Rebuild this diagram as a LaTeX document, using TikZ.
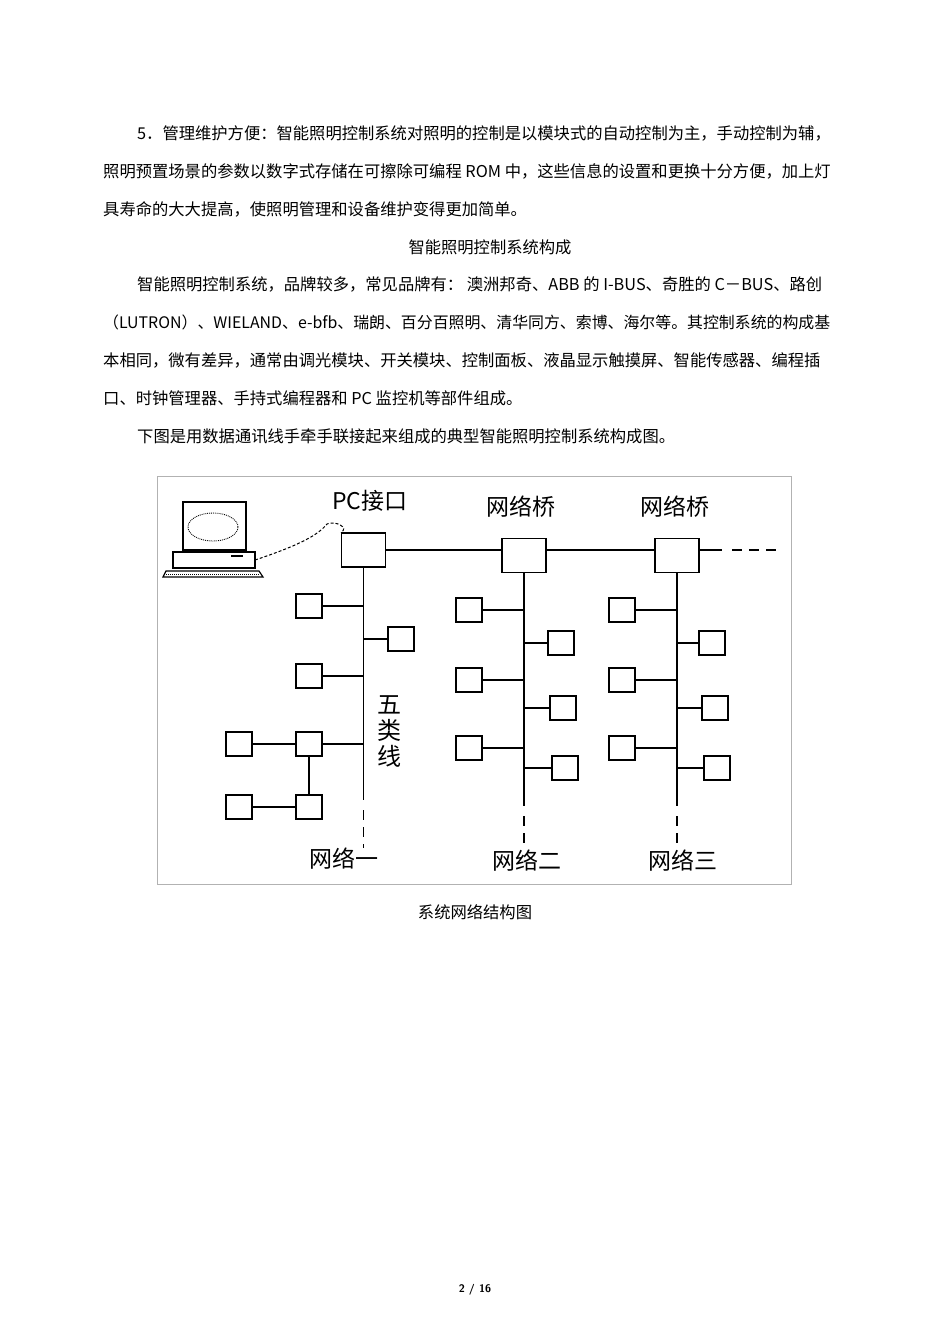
\documentclass[tikz,border=0pt]{standalone}
\usepackage{fontspec}
\newfontfamily\cjk{Noto Sans CJK SC}
\begin{document}
\begin{tikzpicture}[x=1pt,y=-1pt,
  txt/.style={anchor=west,inner sep=0pt,font=\cjk\fontsize{16.3}{18}\selectfont},
  lab/.style={inner sep=0pt,font=\cjk\fontsize{23}{25}\selectfont},
  bx/.style={draw,line width=1.3pt,minimum width=26pt,minimum height=24pt,inner sep=0pt},
  bb/.style={draw,line width=1.3pt,minimum width=44pt,minimum height=34pt,inner sep=0pt},
  ln/.style={line width=1.3pt},
  dl/.style={line width=1.3pt,dash pattern=on 10pt off 7pt}]
\useasboundingbox (0,0) rectangle (950,1344);
% text
\node[txt] (t1) at (137,133) {5．管理维护方便：智能照明控制系统对照明的控制是以模块式的自动控制为主，手动控制为辅，};
\node[txt] (t2) at (103,171) {照明预置场景的参数以数字式存储在可擦除可编程 ROM 中，这些信息的设置和更换十分方便，加上灯};
\node[txt] (t3) at (103,209) {具寿命的大大提高，使照明管理和设备维护变得更加简单。};
\node[txt,anchor=center] (tt) at (490,247) {智能照明控制系统构成};
\node[txt] (t4) at (137,284) {智能照明控制系统，品牌较多，常见品牌有： 澳洲邦奇、ABB 的 I-BUS、奇胜的 C－BUS、路创};
\node[txt,font=\cjk\fontsize{15.9}{18}\selectfont] (t5) at (103,322) {（LUTRON）、WIELAND、e-bfb、瑞朗、百分百照明、清华同方、索博、海尔等。其控制系统的构成基};
\node[txt] (t6) at (103,360) {本相同，微有差异，通常由调光模块、开关模块、控制面板、液晶显示触摸屏、智能传感器、编程插};
\node[txt] (t7) at (103,398) {口、时钟管理器、手持式编程器和 PC 监控机等部件组成。};
\node[txt] (t8) at (137,436) {下图是用数据通讯线手牵手联接起来组成的典型智能照明控制系统构成图。};
\node[txt,anchor=center] (cap) at (475,912) {系统网络结构图};
\node[inner sep=0pt,font=\sffamily\bfseries\fontsize{11}{12}\selectfont] (pg) at (475,1290) {2 / 16};
% frame
\draw[gray!60,line width=0.8pt] (157,476) rectangle (791,884);
% computer
\draw[line width=1.2pt] (183,502) rectangle (246,550);
\draw[line width=0.9pt,densely dotted] (213,527) ellipse (25pt and 14pt);
\draw[line width=1.2pt] (173,552) rectangle (255,568);
\draw[line width=2pt] (231,556) -- (243,556);
\draw[line width=1.2pt] (163,577) -- (166,571) -- (259,571) -- (263,577) -- cycle;
\draw[line width=1pt,densely dotted] (166,574) -- (260,574);
% nodes
\node[bb] (pc) at (363.5,550) {};
\node[bb] (b2) at (524,555.5) {};
\node[bb] (b3) at (677,555.5) {};
\coordinate (cab) at (255,560);
\draw[line width=1pt,densely dashed] (cab) .. controls (300,545) and (318,535) .. (327,524) .. controls (335,520) and (350,528) .. (pc.north west);
\draw[ln] (pc.east) -- (b2.west |- pc.east);
\draw[ln] (b2.east |- pc.east) -- (b3.west |- pc.east);
\coordinate (busend) at (722,550);
\coordinate (busdash) at (783,550);
\draw[ln] (b3.east |- pc.east) -- (busend);
\draw[dl] (busend) ++(10,0) -- (busdash);
% labels
\node[lab] (lpc) at (370,501) {PC接口};
\node[lab] (lb2) at (521,507) {网络桥};
\node[lab] (lb3) at (675,507) {网络桥};
\node[lab] (n1) at (344,859) {网络一};
\node[lab] (n2) at (527,861) {网络二};
\node[lab] (n3) at (683,861) {网络三};
\node[inner sep=0pt,font=\cjk\fontsize{24}{26}\selectfont,align=center] (wl) at (389,731) {五\\类\\线};
% network 1
\coordinate (e1) at (363.5,800); \coordinate (d1) at (363.5,848);
\draw[ln] (pc.south) -- (e1);
\draw[dl] (363.5,810) -- (d1);
\node[bx] (a1) at (309,606) {};
\node[bx] (a2) at (401,639) {};
\node[bx] (a3) at (309,676) {};
\node[bx] (a4) at (309,744) {};
\node[bx] (a5) at (239,744) {};
\node[bx] (a6) at (309,807) {};
\node[bx] (a7) at (239,807) {};
\draw[ln] (a1.east) -- (a1.east -| pc.south);
\draw[ln] (a2.west) -- (a2.west -| pc.south);
\draw[ln] (a3.east) -- (a3.east -| pc.south);
\draw[ln] (a4.east) -- (a4.east -| pc.south);
\draw[ln] (a5) -- (a4);
\draw[ln] (a4) -- (a6);
\draw[ln] (a7) -- (a6);
% network 2
\draw[ln] (b2.south) -- (524,806);
\draw[dl] (524,816) -- (524,848);
\foreach \n/\x/\y in {c1/469/610,c3/469/680,c5/469/748}{
  \node[bx] (\n) at (\x,\y) {}; \draw[ln] (\n.east) -- (\n.east -| b2.south);}
\foreach \n/\x/\y in {c2/561/643,c4/563/708,c6/565/768}{
  \node[bx] (\n) at (\x,\y) {}; \draw[ln] (\n.west) -- (\n.west -| b2.south);}
% network 3
\draw[ln] (b3.south) -- (677,806);
\draw[dl] (677,816) -- (677,848);
\foreach \n/\x/\y in {f1/622/610,f3/622/680,f5/622/748}{
  \node[bx] (\n) at (\x,\y) {}; \draw[ln] (\n.east) -- (\n.east -| b3.south);}
\foreach \n/\x/\y in {f2/712/643,f4/715/708,f6/717/768}{
  \node[bx] (\n) at (\x,\y) {}; \draw[ln] (\n.west) -- (\n.west -| b3.south);}
\end{tikzpicture}
\end{document}
